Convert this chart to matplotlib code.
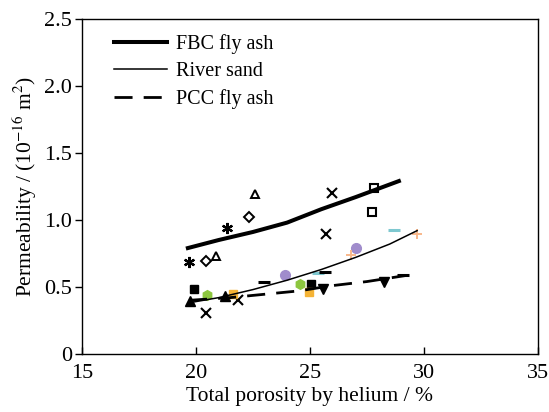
import matplotlib.pyplot as plt

plt.rcParams['font.family'] = ['Liberation Serif', 'DejaVu Serif']
plt.rcParams['mathtext.fontset'] = 'stix'

# 拟合曲线上读取的点
fbc_x = [19.65, 21.0, 22.5, 24.0, 25.5, 27.0, 28.9]
fbc_y = [0.79, 0.85, 0.91, 0.98, 1.08, 1.17, 1.29]
sand_x = [19.65, 21.0, 22.5, 24.0, 25.5, 27.0, 28.5, 29.7]
sand_y = [0.38, 0.42, 0.48, 0.55, 0.63, 0.72, 0.82, 0.92]
pcc_x = [19.7, 21.5, 23.0, 24.5, 26.0, 27.5, 29.2]
pcc_y = [0.40, 0.42, 0.445, 0.47, 0.51, 0.54, 0.585]

# 各组实测点 (孔隙率, 渗透率)
open_tri_x, open_tri_y = [20.89, 22.58], [0.734, 1.19]
open_dia_x, open_dia_y = [20.43, 22.33], [0.697, 1.025]
star_x, star_y = [19.70, 21.36], [0.684, 0.938]
cross_x, cross_y = [25.95, 25.71, 20.43, 21.86], [1.204, 0.893, 0.303, 0.403]
open_sq_x, open_sq_y = [27.79, 27.71], [1.241, 1.06]
sq_x, sq_y = [19.90, 25.04], [0.488, 0.522]
tri_x, tri_y = [19.75, 21.29], [0.396, 0.433]
green_x, green_y = [20.50, 24.58], [0.44, 0.525]
orange_x, orange_y = [21.63, 24.95], [0.445, 0.463]
down_x, down_y = [25.56, 28.24], [0.483, 0.54]
purple_x, purple_y = [23.89, 27.01], [0.59, 0.791]
cyan_x, cyan_y = [25.36, 28.67], [0.602, 0.925]
peach_x, peach_y = [26.82, 29.70], [0.739, 0.893]
dash_x, dash_y = [23.0, 25.66, 29.1], [0.54, 0.612, 0.59]

fig = plt.figure(figsize=(5.49, 4.12), dpi=100)
ax = fig.add_axes([0.149, 0.141, 0.831, 0.813])

ax.plot(fbc_x, fbc_y, color='black', lw=2.9, label='FBC fly ash', zorder=3)
ax.plot(sand_x, sand_y, color='black', lw=1.1, label='River sand', zorder=3)
ax.plot(pcc_x, pcc_y, color='black', lw=2.0, dashes=(6.5, 4), label='PCC fly ash', zorder=3)

ms = 6
ax.plot(open_tri_x, open_tri_y, '^', ms=ms, mfc='none', mec='black', mew=1.4, ls='none')
ax.plot(open_dia_x, open_dia_y, 'D', ms=5, mfc='none', mec='black', mew=1.4, ls='none')
ax.plot(star_x, star_y, marker=(6, 2, 0), ms=8, color='black', mew=1.6, ls='none')
ax.plot(cross_x, cross_y, 'x', ms=7, color='black', mew=1.5, ls='none')
ax.plot(open_sq_x, open_sq_y, 's', ms=ms, mfc='none', mec='black', mew=1.5, ls='none')
ax.plot(sq_x, sq_y, 's', ms=ms, color='black', ls='none')
ax.plot(tri_x, tri_y, '^', ms=7, color='black', ls='none')
ax.plot(green_x, green_y, 'h', ms=7, color='#8dc63f', ls='none')
ax.plot(orange_x, orange_y, 's', ms=ms, color='#f5b335', ls='none')
ax.plot(down_x, down_y, 'v', ms=7, color='black', ls='none')
ax.plot(purple_x, purple_y, 'o', ms=7, color='#a08ccc', ls='none')
ax.plot(cyan_x, cyan_y, '_', ms=8, color='#7ec8d0', mew=2.2, ls='none')
ax.plot(peach_x, peach_y, '+', ms=7, color='#f8b88b', mew=1.4, ls='none')
ax.plot(dash_x, dash_y, '_', ms=8, color='black', mew=2.2, ls='none')

ax.set_xlim(15, 35)
ax.set_ylim(0, 2.5)
ax.set_xticks([15, 20, 25, 30, 35])
ax.set_yticks([0, 0.5, 1.0, 1.5, 2.0, 2.5])
ax.set_yticklabels(['0', '0.5', '1.0', '1.5', '2.0', '2.5'])
ax.tick_params(axis='x', direction='in', length=5, width=1, labelsize=16, pad=7)
ax.tick_params(axis='y', direction='out', length=5, width=1, labelsize=16, pad=2)
for s in ax.spines.values():
    s.set_linewidth(1.0)

ax.set_xlabel('Total porosity by helium / %', fontsize=15.5, labelpad=3)
ax.set_ylabel('Permeability / (10$^{-16}$ m$^2$)', fontsize=15.5, labelpad=4)

ax.legend(loc='upper left', bbox_to_anchor=(0.045, 0.99), frameon=False, fontsize=14.5,
          handlelength=2.6, handletextpad=0.45, labelspacing=0.38, borderaxespad=0.2)

fig.savefig('out.png', dpi=100)
